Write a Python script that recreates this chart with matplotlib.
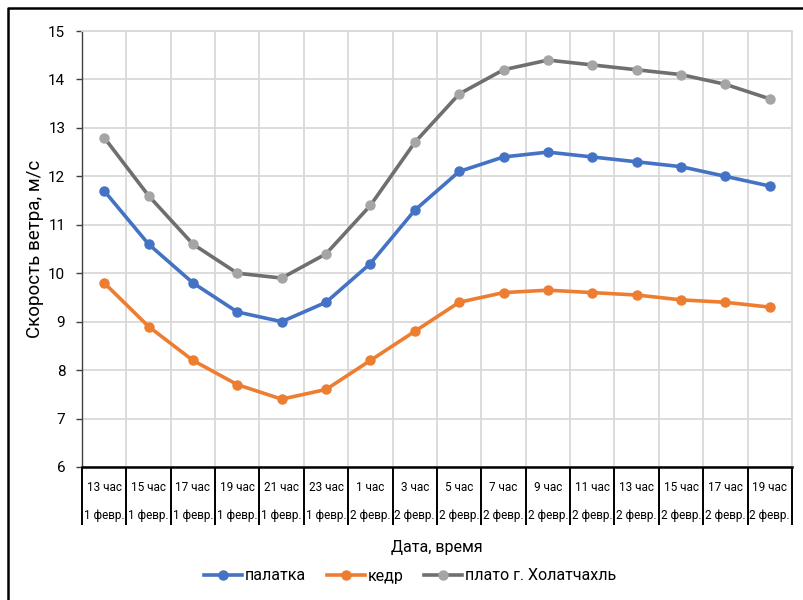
import matplotlib
matplotlib.use("Agg")
import matplotlib.pyplot as plt
from matplotlib.lines import Line2D
import numpy as np

plt.rcParams['font.family'] = ['Roboto', 'DejaVu Sans']

hours = ['13 час', '15 час', '17 час', '19 час', '21 час', '23 час', '1 час', '3 час',
         '5 час', '7 час', '9 час', '11 час', '13 час', '15 час', '17 час', '19 час']
dates = ['1 февр.'] * 6 + ['2 февр.'] * 10

palatka = [11.7, 10.6, 9.8, 9.2, 9.0, 9.4, 10.2, 11.3, 12.1, 12.4, 12.5, 12.4, 12.3, 12.2, 12.0, 11.8]
kedr = [9.8, 8.9, 8.2, 7.7, 7.4, 7.6, 8.2, 8.8, 9.4, 9.6, 9.65, 9.6, 9.55, 9.45, 9.4, 9.3]
plato = [12.8, 11.6, 10.6, 10.0, 9.9, 10.4, 11.4, 12.7, 13.7, 14.2, 14.4, 14.3, 14.2, 14.1, 13.9, 13.6]

series = [
    ('палатка', palatka, '#4472C4', '#4472C4'),
    ('кедр', kedr, '#ED7D31', '#ED7D31'),
    ('плато г. Холатчахль', plato, '#726E6E', '#A5A5A5'),
]

fig = plt.figure(figsize=(8.04, 6.0), dpi=100)
ax = fig.add_axes([0.102, 0.2217, 0.883, 0.7266])

x = np.arange(len(hours))
handles = []
for name, vals, lc, mc in series:
    ln, = ax.plot(x, vals, color=lc, lw=2.6, marker='o', ms=6.5,
                  markerfacecolor=mc, markeredgecolor=mc, label=name, zorder=3)
    handles.append(ln)

ax.set_xlim(-0.5, len(hours) - 0.5)
ax.set_ylim(6, 15)
ax.set_yticks(range(6, 16))
ax.set_xticks([])
ax.set_xticks(np.arange(-0.5, len(hours)), minor=True)
ax.tick_params(axis='x', which='minor', length=42, width=1.4, color='black', labelbottom=False)
ax.tick_params(axis='y', which='major', length=4, width=1, color='#404040', labelsize=11, pad=8)

ax.grid(axis='y', which='major', color='#D9D9D9', lw=1.3)
ax.grid(axis='x', which='minor', color='#D9D9D9', lw=1.3)
ax.set_axisbelow(True)

for side in ['top', 'right']:
    ax.spines[side].set_color('#D9D9D9')
    ax.spines[side].set_linewidth(1.3)
ax.spines['left'].set_color('#404040')
ax.spines['left'].set_linewidth(1)
ax.spines['bottom'].set_color('black')
ax.spines['bottom'].set_linewidth(1.8)

# two-level category labels
tr = ax.get_xaxis_transform()
for i, (h, d) in enumerate(zip(hours, dates)):
    ax.text(i, -0.046, h, transform=tr, ha='center', va='center', fontsize=8.5)
    ax.text(i, -0.112, d, transform=tr, ha='center', va='center', fontsize=8.5)

ax.set_ylabel('Скорость ветра, м/с', fontsize=13.5)
ax.yaxis.set_label_coords(-0.054, 0.5)

fig.text(0.5435, 0.087, 'Дата, время', ha='center', va='center', fontsize=11.5)

fig.legend(handles=handles, loc='center', bbox_to_anchor=(0.51, 0.04), ncol=3,
           frameon=False, fontsize=11.5, handlelength=2.4, columnspacing=1.3,
           handletextpad=0.15)

# outer chart frame
fig.add_artist(Line2D([0.0105, 0.0105, 1.0], [0.0, 0.987, 0.987],
                      transform=fig.transFigure, color='black', lw=1.8))

fig.savefig('out.png', dpi=100)
